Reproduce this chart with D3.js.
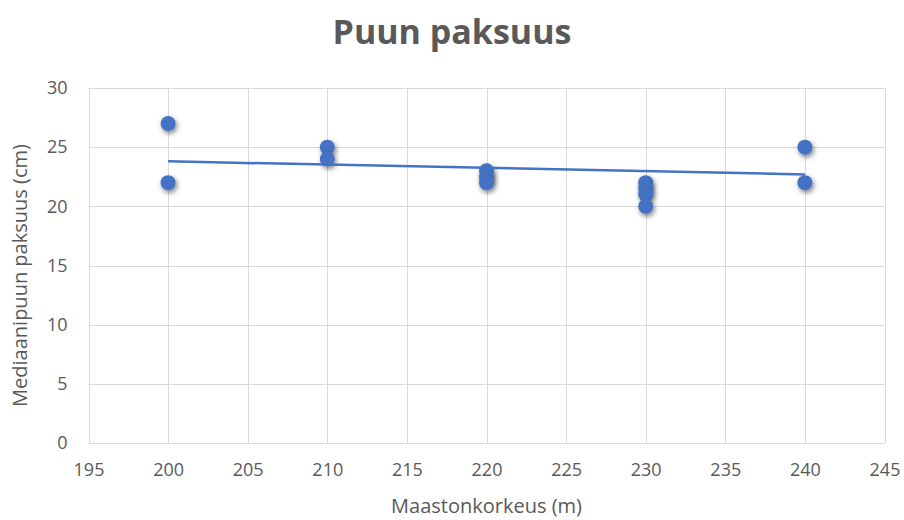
<!DOCTYPE html>
<html>
<head>
<meta charset="utf-8">
<script src="https://cdn.jsdelivr.net/npm/d3@7"></script>
<style>
  html, body { margin: 0; padding: 0; background: #fff; }
  svg { display: block; }
  text { font-family: "Open Sans", Lato, sans-serif; fill: #595959; }
</style>
</head>
<body>
<svg id="chart" width="904" height="520"></svg>
<script>
// ---- data ----
const elevations = [200, 200, 210, 210, 220, 220, 220, 230, 230, 230, 230, 240, 240];
const thickness  = [27,  22,  25,  24,  23, 22.5, 22,  22, 21.5, 21,  20,  25,  22];
const trendX = [200, 240];
const trendY = [23.8, 22.7];
const xTicks = [195, 200, 205, 210, 215, 220, 225, 230, 235, 240, 245];
const yTicks = [0, 5, 10, 15, 20, 25, 30];
const titleText = "Puun paksuus";
const xTitle = "Maastonkorkeus (m)";
const yTitle = "Mediaanipuun paksuus (cm)";

// ---- layout ----
const svg = d3.select("#chart");
const mLeft = 88.5, mRight = 884.5, mTop = 88, mBottom = 443;
const x = d3.scaleLinear().domain([195, 245]).range([mLeft, mRight]);
const y = d3.scaleLinear().domain([0, 30]).range([mBottom, mTop]);
const blue = "#4472C4";
const fontFam = '"Open Sans", Lato, sans-serif';

const defs = svg.append("defs");
const f = defs.append("filter").attr("id", "shadow")
  .attr("x", "-80%").attr("y", "-80%").attr("width", "260%").attr("height", "260%");
f.append("feDropShadow").attr("dx", 1.5).attr("dy", 2.5).attr("stdDeviation", 2.5)
  .attr("flood-color", "#000").attr("flood-opacity", 0.5);

// gridlines
svg.append("g").selectAll("line").data(yTicks).join("line")
  .attr("x1", mLeft).attr("x2", mRight)
  .attr("y1", d => Math.round(y(d)) + 0.5).attr("y2", d => Math.round(y(d)) + 0.5)
  .attr("stroke", "#d9d9d9").attr("stroke-width", 1);
svg.append("g").selectAll("line").data(xTicks).join("line")
  .attr("y1", mTop).attr("y2", mBottom)
  .attr("x1", d => Math.round(x(d)) + 0.5).attr("x2", d => Math.round(x(d)) + 0.5)
  .attr("stroke", "#d9d9d9").attr("stroke-width", 1);

// axes via d3
const xAxis = d3.axisBottom(x).tickValues(xTicks).tickSize(0).tickPadding(20);
const gx = svg.append("g").attr("transform", `translate(0,${mBottom})`).call(xAxis);
gx.select(".domain").remove();
gx.selectAll("text").style("font-size", "18px").attr("fill", "#595959")
  .style("font-family", fontFam);

const yAxis = d3.axisLeft(y).tickValues(yTicks).tickSize(0).tickPadding(21);
const gy = svg.append("g").attr("transform", `translate(${mLeft},0)`).call(yAxis);
gy.select(".domain").remove();
gy.selectAll("text").style("font-size", "18px").attr("fill", "#595959")
  .style("font-family", fontFam);

// points
const pts = elevations.map((e, i) => ({ x: e, y: thickness[i] }));
svg.append("g").selectAll("circle").data(pts).join("circle")
  .attr("cx", d => x(d.x)).attr("cy", d => y(d.y)).attr("r", 7.5)
  .attr("fill", blue).attr("filter", "url(#shadow)");

// trendline
const trend = trendX.map((v, i) => [v, trendY[i]]);
svg.append("path").datum(trend)
  .attr("d", d3.line().x(d => x(d[0])).y(d => y(d[1])))
  .attr("stroke", blue).attr("stroke-width", 2.5).attr("fill", "none");

// titles
svg.append("text").attr("x", 452).attr("y", 44).attr("text-anchor", "middle")
  .style("font-size", "34px").style("font-weight", "bold").text(titleText);
svg.append("text").attr("x", (mLeft + mRight) / 2).attr("y", 513).attr("text-anchor", "middle")
  .style("font-size", "20px").text(xTitle);
svg.append("text").attr("transform", `translate(27,${(mTop + mBottom) / 2 + 10}) rotate(-90)`)
  .attr("text-anchor", "middle").style("font-size", "20px").text(yTitle);
</script>
</body>
</html>
